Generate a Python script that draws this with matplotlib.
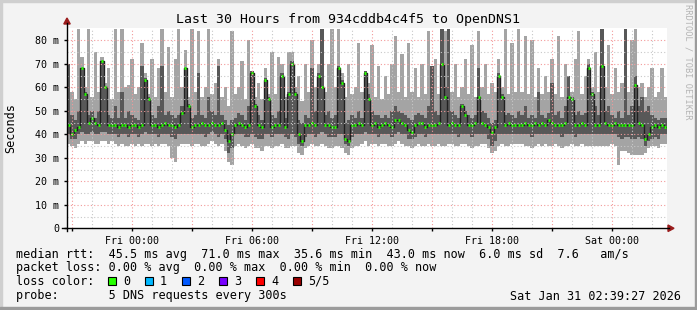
import numpy as np
import matplotlib.pyplot as plt
from matplotlib.patches import Rectangle, Polygon
from matplotlib.lines import Line2D

# 10 minute slots over the last 30 hours (slot 0 starts Thu 20:45), values in ms
# hi1/lo1 = outer smoke (max/min ping), hi2/lo2 = inner smoke, med = median rtt
hi1 = [70, 58, 55, 85, 73, 60, 85, 56, 75, 58, 73, 62, 68, 55, 85, 58, 85, 60, 61, 72,
       57, 60, 79, 66, 57, 72, 56, 68, 85, 58, 77, 56, 72, 85, 60, 76, 56, 85, 58, 84,
       56, 60, 85, 57, 62,
       72, 56, 60, 52, 84, 57, 60, 71, 55, 80, 67, 56, 62, 55, 68, 57, 75, 57, 73, 70,
       56, 75, 75, 60, 65, 54, 70, 58, 80, 60, 70, 85, 58, 70, 85, 60, 85, 66, 56, 70,
       57, 60, 79, 58, 67,
       62, 78, 56, 69, 55, 65, 57, 70, 82, 58, 74, 56, 79, 58, 68, 56, 70, 57, 84, 69,
       72, 57, 85, 84, 85, 58, 70, 56, 60, 72, 57, 78, 56, 84, 60, 70, 57, 62, 58, 72,
       60, 85, 57, 79, 58,
       85, 58, 82, 57, 80, 56, 68, 57, 65, 58, 72, 57, 82, 56, 70, 65, 58, 72, 84, 57,
       65, 72, 60, 75, 58, 85, 60, 78, 57, 68, 58, 62, 85, 58, 80, 85, 60, 62, 56, 60,
       68, 56, 58, 68, 56]
hi2 = [70, 48, 46, 50, 68, 58, 48, 50, 47, 50, 71, 60, 48, 47, 52, 47, 58, 47, 50, 48,
       47, 46, 69, 64, 56, 48, 47, 52, 69, 48, 50, 48, 47, 48, 52, 68, 53, 47, 48, 66,
       48, 47, 56, 50, 48,
       69, 48, 46, 44, 46, 47, 49, 48, 46, 52, 67, 53, 48, 46, 64, 56, 48, 47, 50, 66,
       47, 58, 71, 58, 46, 45, 48, 47, 68, 50, 66, 85, 48, 50, 47, 48, 69, 63, 45, 46,
       48, 47, 50, 47, 67,
       57, 50, 48, 48, 47, 48, 47, 50, 52, 50, 49, 48, 47, 46, 48, 49, 48, 47, 52, 69,
       50, 48, 85, 60, 85, 50, 48, 47, 53, 50, 48, 47, 48, 68, 50, 49, 47, 45, 46, 66,
       57, 48, 49, 48, 47,
       50, 48, 52, 47, 48, 47, 58, 48, 47, 49, 62, 48, 50, 47, 52, 65, 56, 48, 50, 48,
       49, 70, 58, 52, 48, 85, 50, 52, 48, 47, 50, 47, 85, 48, 52, 65, 52, 56, 50, 52,
       48, 47, 46, 47, 47]
med = [44, 40, 42, 43, 68, 57, 45, 47, 45, 44, 71, 60, 44, 44, 44, 43, 44, 44, 43, 44,
       44, 43, 44, 63, 55, 44, 44, 43, 44, 45, 44, 44, 43, 44, 49, 68, 52, 43, 44, 44,
       45, 44, 44, 45, 44,
       44, 45, 42, 37, 40, 44, 45, 44, 43, 44, 66, 52, 44, 43, 63, 55, 43, 44, 44, 65,
       43, 57, 70, 57, 40, 37, 44, 44, 45, 44, 65, 60, 44, 44, 43, 43, 68, 62, 38, 37,
       44, 44, 45, 44, 66,
       55, 44, 45, 43, 44, 45, 44, 43, 46, 46, 45, 44, 42, 41, 44, 45, 45, 43, 44, 44,
       44, 45, 70, 56, 44, 45, 44, 44, 52, 48, 44, 44, 45, 56, 45, 44, 43, 41, 43, 65,
       56, 44, 45, 44, 44,
       44, 44, 45, 44, 44, 45, 44, 45, 44, 46, 45, 44, 44, 44, 45, 56, 55, 44, 44, 45,
       44, 68, 57, 44, 44, 69, 45, 44, 44, 45, 44, 44, 44, 44, 44, 61, 45, 44, 38, 40,
       43, 44, 43, 44, 43]
lo2 = [40, 38, 38, 40, 41, 40, 40, 41, 40, 40, 41, 41, 40, 40, 40, 39, 40, 40, 39, 40,
       40, 39, 40, 41, 40, 40, 40, 39, 40, 40, 40, 39, 38, 40, 40, 40, 40, 40, 40, 40,
       40, 39, 40, 41, 40,
       39, 40, 38, 32, 34, 40, 40, 40, 39, 39, 40, 39, 38, 38, 40, 40, 39, 40, 40, 40,
       39, 38, 40, 39, 36, 35, 39, 40, 40, 39, 40, 41, 40, 39, 39, 39, 40, 40, 36, 35,
       39, 40, 40, 40, 41,
       40, 40, 40, 39, 40, 40, 40, 39, 40, 41, 40, 40, 38, 38, 39, 40, 40, 39, 40, 40,
       40, 40, 40, 40, 40, 40, 40, 39, 40, 40, 40, 39, 40, 40, 40, 40, 38, 35, 37, 40,
       40, 40, 40, 40, 40,
       40, 40, 40, 40, 39, 40, 40, 40, 40, 40, 40, 40, 40, 39, 40, 40, 40, 39, 40, 40,
       40, 40, 40, 40, 40, 40, 40, 40, 40, 40, 39, 38, 39, 39, 38, 38, 39, 38, 35, 37,
       38, 39, 38, 40, 40]
lo1 = [36, 35, 34, 36, 37, 36, 37, 37, 36, 36, 37, 37, 36, 37, 36, 35, 36, 35, 35, 36,
       35, 36, 35, 36, 36, 35, 36, 35, 36, 36, 35, 30, 28, 35, 36, 36, 36, 35, 36, 36,
       35, 35, 36, 37, 36,
       35, 36, 33, 28, 27, 35, 36, 35, 34, 35, 36, 34, 34, 33, 35, 35, 34, 35, 35, 36,
       34, 34, 35, 35, 32, 31, 34, 35, 36, 35, 35, 36, 35, 34, 34, 35, 35, 34, 32, 31,
       34, 35, 35, 36, 37,
       35, 36, 36, 35, 36, 36, 35, 35, 36, 37, 36, 35, 35, 34, 35, 36, 35, 35, 36, 35,
       35, 36, 35, 35, 36, 36, 35, 35, 36, 36, 35, 34, 35, 35, 36, 36, 34, 32, 33, 35,
       36, 35, 35, 36, 36,
       36, 36, 35, 35, 34, 35, 36, 35, 36, 35, 35, 36, 35, 34, 35, 35, 36, 35, 35, 36,
       35, 35, 35, 35, 35, 35, 35, 35, 36, 35, 27, 33, 33, 32, 31, 31, 31, 31, 32, 34,
       35, 35, 34, 36, 36]

tick_pos = [3.25, 9.25, 15.25, 21.25, 27.25]
tick_lbl = ['Fri 00:00', 'Fri 06:00', 'Fri 12:00', 'Fri 18:00', 'Sat 00:00']
y_lbl = ['0', '10 m', '20 m', '30 m', '40 m', '50 m', '60 m', '70 m', '80 m']

legend_lines = [
    'median rtt:  45.5 ms avg  71.0 ms max  35.6 ms min  43.0 ms now  6.0 ms sd  7.6   am/s',
    'packet loss: 0.00 % avg  0.00 % max  0.00 % min  0.00 % now',
]
loss_names = ['0', '1', '2', '3', '4', '5/5']
loss_cols = ['#26ff00', '#00b8ff', '#0059ff', '#7800ff', '#ff0000', '#990000']

W, H = 697, 310
mono = 'DejaVu Sans Mono'


def fx(x):
    return x / W


def fy(y):
    return 1 - y / H


fig = plt.figure(figsize=(W / 100, H / 100), dpi=100, facecolor='#f3f3f3')
ax = fig.add_axes([fx(67), fy(228.3), 600 / W, 200 / H])
ax.set_facecolor('white')

n = len(med)
edges = np.arange(n + 1) / 6.0


def ext(v):
    v = np.asarray(v, dtype=float)
    return np.append(v, v[-1])


ax.fill_between(edges, ext(lo1), ext(hi1), step='post', color='#a4a4a4', lw=0, zorder=1)
ax.fill_between(edges, ext(lo2), ext(hi2), step='post', color='#585858', lw=0, zorder=2)
ax.step(edges, ext(med), where='post', color='#202020', lw=1, zorder=3)
ax.hlines(med, edges[:-1] + 0.04, edges[1:] - 0.04, color='#26ff00', lw=2.0, zorder=4)

ax.set_xlim(0, 30)
ax.set_ylim(0, 85.1)

# grid: minor every hour / 5 ms, major every 3 hours / 10 ms
for h in np.arange(0.25, 30, 1.0):
    major = abs((h - 0.25) % 3) < 1e-6
    ax.axvline(h, color='#f39a9a' if major else '#c8c8c8', lw=0.8,
               ls=(0, (1, 2)), zorder=5)
for v in np.arange(5, 85, 5):
    major = v % 10 == 0
    ax.axhline(v, color='#f39a9a' if major else '#c8c8c8', lw=0.8,
               ls=(0, (1, 2)), zorder=5)

ax.set_xticks(np.arange(0.25, 30, 3.0))
ax.set_xticklabels(['' if t not in tick_pos else tick_lbl[tick_pos.index(t)]
                    for t in np.arange(0.25, 30, 3.0)])
ax.set_yticks(np.arange(0, 81, 10))
ax.set_yticklabels(y_lbl)
ax.tick_params(axis='both', length=2, width=1, labelsize=7.2, pad=3.5)
for lab in ax.get_xticklabels() + ax.get_yticklabels():
    lab.set_family(mono)
for s in ['top', 'right', 'left', 'bottom']:
    ax.spines[s].set_visible(False)

# axes with arrows
arrow_col = '#9a1c1c'
fig.add_artist(Line2D([fx(62), fx(669)], [fy(228.3), fy(228.3)], color='black', lw=1))
fig.add_artist(Line2D([fx(67), fx(67)], [fy(231), fy(23)], color='black', lw=1))
fig.add_artist(Polygon([(fx(668), fy(225)), (fx(668), fy(231.5)), (fx(674), fy(228.3))],
                       closed=True, color=arrow_col, transform=fig.transFigure))
fig.add_artist(Polygon([(fx(63.8), fy(24)), (fx(70.2), fy(24)), (fx(67), fy(18))],
                       closed=True, color=arrow_col, transform=fig.transFigure))

# texts
fig.text(0.5, fy(20), 'Last 30 Hours from 934cddb4c4f5 to OpenDNS1', family=mono,
         fontsize=9.5, ha='center', va='center')
fig.text(fx(11), fy(128), 'Seconds', family=mono, fontsize=8.5, rotation=90,
         ha='center', va='center')
fig.text(fx(688), fy(62), 'RRDTOOL / TOBI OETIKER', family=mono, fontsize=6.2,
         rotation=-90, ha='center', va='center', color='#b4b4b4')

fig.text(fx(16), fy(254.3), legend_lines[0], family=mono, fontsize=8.5, va='center')
fig.text(fx(16), fy(267.7), legend_lines[1], family=mono, fontsize=8.5, va='center')
fig.text(fx(16), fy(281.5), 'loss color:', family=mono, fontsize=8.5, va='center')
box_x = [108, 145, 182, 219, 256, 293]
for bx, name, col in zip(box_x, loss_names, loss_cols):
    fig.add_artist(Rectangle((fx(bx), fy(284.5)), 8 / W, 8 / H, facecolor=col,
                             edgecolor='black', lw=0.8, transform=fig.transFigure))
    fig.text(fx(bx + 15), fy(281.5), name, family=mono, fontsize=8.5, va='center')
fig.text(fx(16), fy(296), 'probe:       5 DNS requests every 300s', family=mono,
         fontsize=8.5, va='center')
fig.text(fx(681), fy(296), 'Sat Jan 31 02:39:27 2026', family=mono, fontsize=8.5,
         va='center', ha='right')

# 3d frame
fig.add_artist(Rectangle((0, 0), 2 / W, 1, color='#cfcfcf', transform=fig.transFigure))
fig.add_artist(Rectangle((0, 1 - 2 / H), 1, 2 / H, color='#cfcfcf', transform=fig.transFigure))
fig.add_artist(Rectangle((1 - 2 / W, 0), 2 / W, 1, color='#9b9b9b', transform=fig.transFigure))
fig.add_artist(Rectangle((0, 0), 1, 3 / H, color='#9b9b9b', transform=fig.transFigure))

fig.savefig('out.png', dpi=100, facecolor=fig.get_facecolor())
